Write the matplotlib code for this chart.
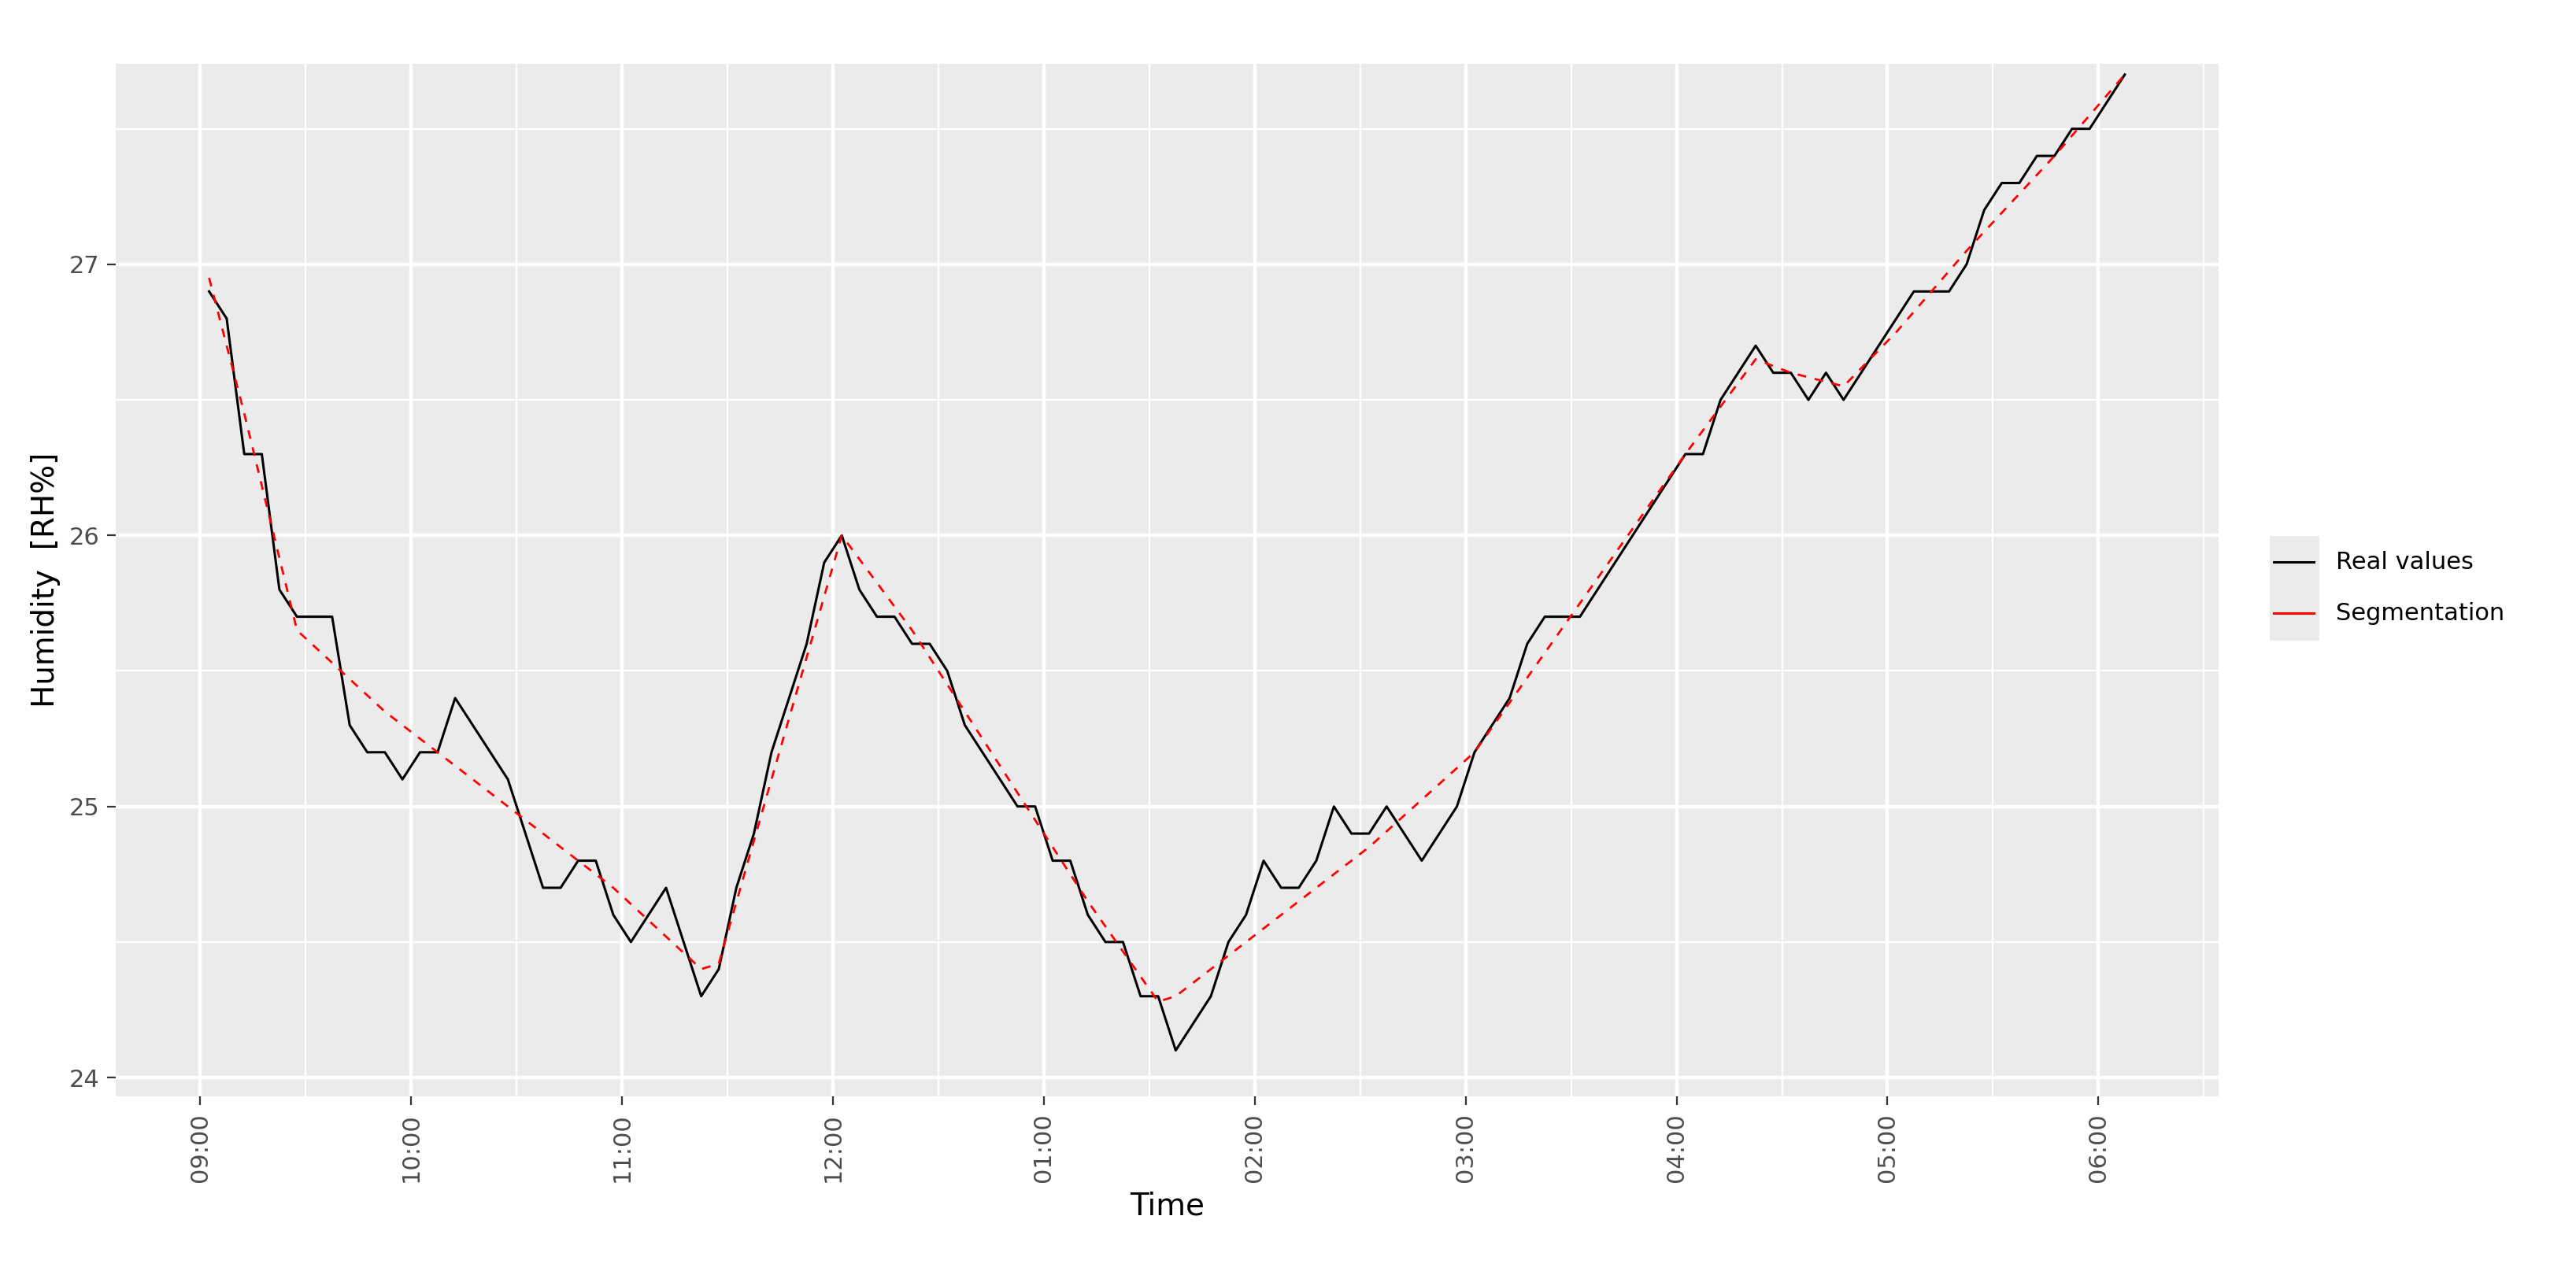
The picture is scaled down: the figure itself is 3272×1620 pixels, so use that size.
import matplotlib.pyplot as plt
from matplotlib.lines import Line2D
import numpy as np

# humidity every 5 min, starting 09:02:30
humidity = [26.9, 26.8, 26.3, 26.3, 25.8, 25.7, 25.7, 25.7, 25.3, 25.2,
            25.2, 25.1, 25.2, 25.2, 25.4, 25.3, 25.2, 25.1, 24.9, 24.7,
            24.7, 24.8, 24.8, 24.6, 24.5, 24.6, 24.7, 24.5, 24.3, 24.4,
            24.7, 24.9, 25.2, 25.4, 25.6, 25.9, 26.0, 25.8, 25.7, 25.7,
            25.6, 25.6, 25.5, 25.3, 25.2, 25.1, 25.0, 25.0, 24.8, 24.8,
            24.6, 24.5, 24.5, 24.3, 24.3, 24.1, 24.2, 24.3, 24.5, 24.6,
            24.8, 24.7, 24.7, 24.8, 25.0, 24.9, 24.9, 25.0, 24.9, 24.8,
            24.9, 25.0, 25.2, 25.3, 25.4, 25.6, 25.7, 25.7, 25.7, 25.8,
            25.9, 26.0, 26.1, 26.2, 26.3, 26.3, 26.5, 26.6, 26.7, 26.6,
            26.6, 26.5, 26.6, 26.5, 26.6, 26.7, 26.8, 26.9, 26.9, 26.9,
            27.0, 27.2, 27.3, 27.3, 27.4, 27.4, 27.5, 27.5, 27.6, 27.7]

seg_idx = [0, 2, 5, 10, 17, 23, 28, 29, 32, 36, 40, 46, 50, 54, 55, 60, 66,
           72, 78, 84, 88, 90, 93, 96, 100, 105, 109]
seg_val = [26.95, 26.45, 25.65, 25.35, 25.0, 24.7, 24.4, 24.42, 25.1, 26.0,
           25.65, 25.05, 24.65, 24.28, 24.3, 24.55, 24.85, 25.2, 25.75, 26.3,
           26.65, 26.6, 26.55, 26.75, 27.05, 27.4, 27.7]

tick_labels = ['09:00', '10:00', '11:00', '12:00', '01:00', '02:00',
               '03:00', '04:00', '05:00', '06:00']
legend_labels = ['Real values', 'Segmentation']
legend_colors = ['black', 'red']

t = (2.5 + 5 * np.arange(len(humidity))) / 60.0
t_seg = (2.5 + 5 * np.array(seg_idx)) / 60.0

fig = plt.figure(figsize=(16.365, 8.1), dpi=200)
ax = fig.add_axes([0.045, 0.14, 0.816, 0.81])
ax.set_facecolor('#EBEBEB')

ax.plot(t, humidity, color='black', lw=1.1, zorder=3)
ax.plot(t_seg, seg_val, color='red', lw=1.0, ls=(0, (4, 4)), zorder=4)

ax.set_xlim(-0.40, 9.57)
ax.set_ylim(23.93, 27.74)
ax.set_xticks(np.arange(10))
ax.set_xticklabels(tick_labels, rotation=90)
ax.set_xticks(np.arange(10) + 0.5, minor=True)
ax.set_yticks([24, 25, 26, 27])
ax.set_yticks([24.5, 25.5, 26.5, 27.5], minor=True)
ax.grid(which='major', color='white', lw=1.6)
ax.grid(which='minor', color='white', lw=0.8)
ax.set_axisbelow(True)
for s in ax.spines.values():
    s.set_visible(False)
ax.tick_params(which='major', colors='#333333', labelcolor='#4D4D4D', labelsize=11, length=4)
ax.tick_params(which='minor', length=0)
ax.set_xlabel('Time', fontsize=14)
ax.set_ylabel('Humidity  [RH%]', fontsize=14)

# legend drawn by hand, ggplot style keys
fig.patches.append(plt.Rectangle((0.881, 0.499), 0.0185, 0.08, transform=fig.transFigure,
                                 color='#EBEBEB', zorder=0))
for i, (lab, col) in enumerate(zip(legend_labels, legend_colors)):
    y = 0.559 - i * 0.04
    fig.lines.append(Line2D([0.8825, 0.8980], [y, y], color=col, lw=1.1,
                            transform=fig.transFigure))
    fig.text(0.9065, y, lab, fontsize=11, va='center', ha='left')

fig.savefig('out.png')
